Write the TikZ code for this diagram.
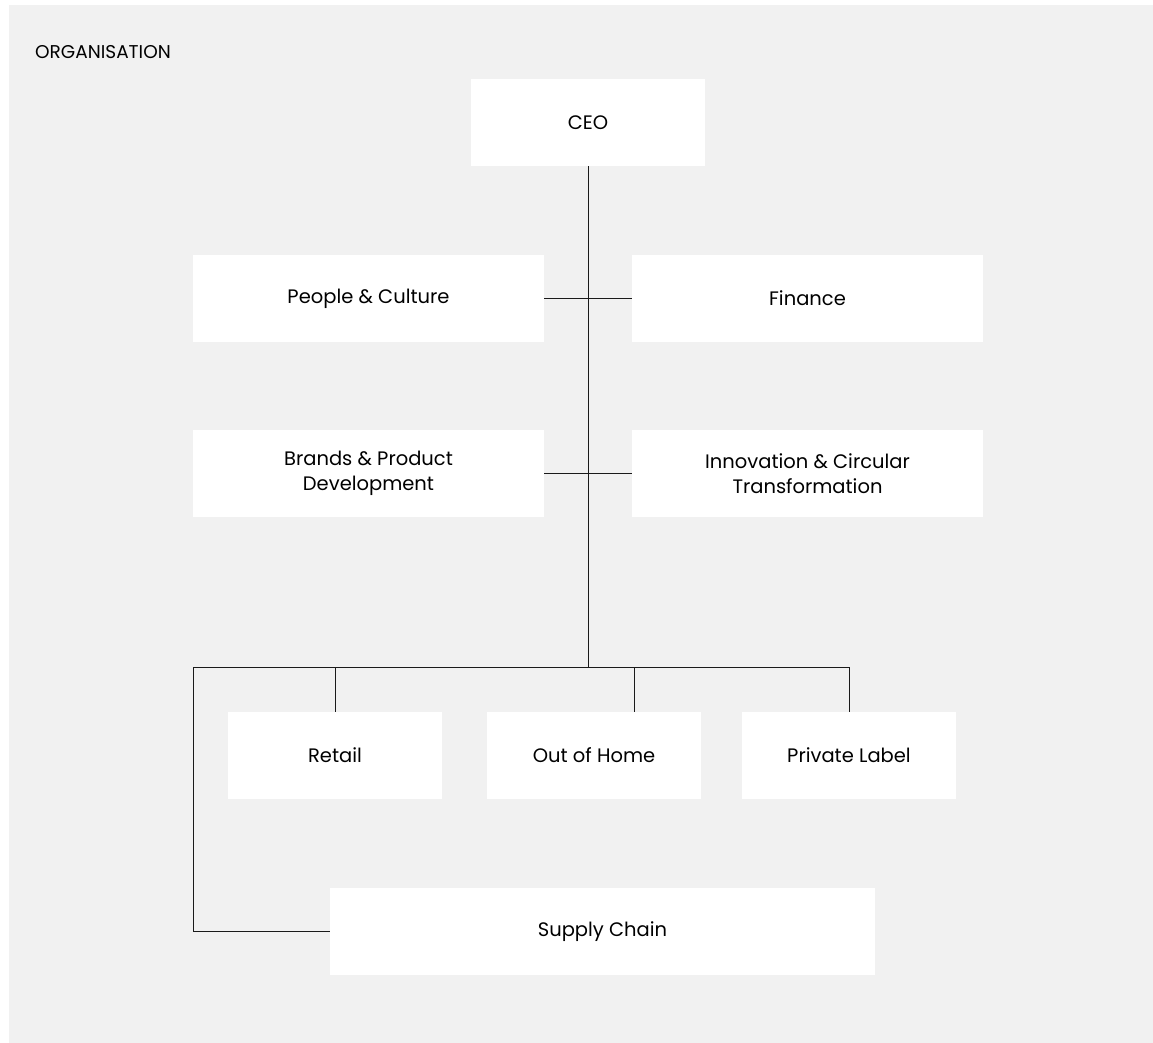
\documentclass[tikz,border=0pt]{standalone}
\usepackage{fontspec}
\setmainfont{Poppins}
\definecolor{bggray}{HTML}{F1F1F1}
\definecolor{linec}{HTML}{1A1A1A}
\begin{document}
\begin{tikzpicture}[x=1pt,y=-1pt,
  box/.style={fill=white, draw=none, minimum width=#1, minimum height=87pt, inner sep=0pt, align=center, font=\fontsize{19.5}{25}\selectfont, text=black},
  box/.default=351pt,
  conn/.style={draw=linec, line width=1pt}]
\useasboundingbox (0,0) rectangle (1153,1043);
\fill[bggray] (9,5) rectangle (1153,1043);
\node[anchor=west, inner sep=0pt, font=\fontsize{18.5}{22}\selectfont] (title) at (35,52) {ORGANISATION};
\node[box=234pt] (ceo) at (588,122.5) {CEO};
\node[box] (people) at (368.5,298.5) {People \& Culture};
\node[box] (finance) at (807.5,298.5) {Finance};
\node[box] (brands) at (368.5,473.5) {Brands \& Product\\Development};
\node[box] (innov) at (807.5,473.5) {Innovation \& Circular\\Transformation};
\node[box=214pt] (retail) at (335,755.5) {Retail};
\node[box=214pt] (ooh) at (594,755.5) {Out of Home};
\node[box=214pt] (private) at (849,755.5) {Private Label};
\node[box=545pt] (supply) at (602.5,931.5) {Supply Chain};
\coordinate (hub) at (588,667);
\coordinate (barL) at (193,667);
\coordinate (barR) at (849,667);
\coordinate (dropO) at (634,667);
\draw[conn] (ceo.south) -- (hub);
\draw[conn] (people.east) -- (finance.west);
\draw[conn] (brands.east) -- (innov.west);
\draw[conn] (barL) -- (barR);
\draw[conn] (retail.north) -- (retail.north |- barL);
\draw[conn] (dropO) -- (dropO |- ooh.north);
\draw[conn] (private.north) -- (barR);
\draw[conn] (barL) |- (supply.west);
\end{tikzpicture}
\end{document}
